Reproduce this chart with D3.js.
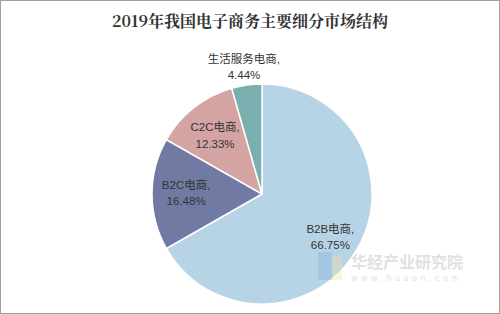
<!DOCTYPE html>
<html>
<head>
<meta charset="utf-8">
<script src="https://cdn.jsdelivr.net/npm/d3@7"></script>
<style>
  body { margin: 0; background: #fff; }
  svg { display: block; }
</style>
</head>
<body>
<div id="chart"></div>
<script>
// segments of the e-commerce market, 2019
var segments = ["B2B电商", "B2C电商", "C2C电商", "生活服务电商"];
var shares = [66.75, 16.48, 12.33, 4.44];
var colors = ["#b7d3e6", "#717aa2", "#d4a4a3", "#79afae"];

var width = 500, height = 314;
var cx = 262, cy = 194, radius = 110;

var svg = d3.select("#chart").append("svg")
  .attr("width", width)
  .attr("height", height);

// outer frame
svg.append("rect")
  .attr("x", 0.5).attr("y", 0.5)
  .attr("width", width - 1).attr("height", height - 1)
  .attr("fill", "#fff")
  .attr("stroke", "#a0a0a0");

svg.append("text")
  .attr("x", width / 2)
  .attr("y", 27)
  .attr("text-anchor", "middle")
  .attr("font-family", "'Noto Serif CJK SC', 'DejaVu Serif', 'Liberation Serif', serif")
  .attr("font-weight", "bold")
  .attr("font-size", "16px")
  .attr("fill", "#333")
  .text("2019年我国电子商务主要细分市场结构");

var data = segments.map(function(s, i) { return {name: s, value: shares[i], color: colors[i]}; });

var pie = d3.pie().sort(null).value(function(d) { return d.value; });
var arc = d3.arc().innerRadius(0).outerRadius(radius);

var g = svg.append("g").attr("transform", "translate(" + cx + "," + cy + ")");

var arcs = pie(data);

g.selectAll("path")
  .data(arcs)
  .enter().append("path")
  .attr("d", arc)
  .attr("fill", function(d) { return d.data.color; })
  .attr("stroke", "#fff")
  .attr("stroke-width", 1.5);

// label placement: radius fraction and angle shift (degrees) from slice middle
var labelR = [0.73, 0.69, 0.69, 1.18];
var labelShift = [1.5, 1.5, 0, 0];

var labels = g.selectAll(".lbl")
  .data(arcs)
  .enter().append("text")
  .attr("class", "lbl")
  .attr("text-anchor", "middle")
  .attr("font-family", "'Liberation Sans', 'Noto Sans CJK SC', sans-serif")
  .attr("font-size", "11.5px")
  .attr("fill", "#333")
  .attr("transform", function(d, i) {
    var a = (d.startAngle + d.endAngle) / 2 + labelShift[i] * Math.PI / 180;
    var r = radius * labelR[i];
    return "translate(" + (Math.sin(a) * r) + "," + (-Math.cos(a) * r) + ")";
  });

labels.append("tspan")
  .attr("x", 0)
  .attr("dy", "-0.25em")
  .text(function(d) { return d.data.name + ","; });

labels.append("tspan")
  .attr("x", 0)
  .attr("dy", "1.4em")
  .text(function(d) { return d.data.value.toFixed(2) + "%"; });

// faint watermark
var wm = svg.append("g").attr("opacity", 0.35);
wm.append("rect").attr("x", 318).attr("y", 252).attr("width", 14).attr("height", 28).attr("fill", "#7fb0e0");
wm.append("rect").attr("x", 332).attr("y", 256).attr("width", 10).attr("height", 24).attr("fill", "#f3e3a0");
wm.append("text")
  .attr("x", 351).attr("y", 268)
  .attr("font-family", "'Noto Sans CJK SC', sans-serif")
  .attr("font-size", "16px")
  .attr("font-weight", "bold")
  .attr("fill", "#aaa")
  .text("华经产业研究院");
wm.append("text")
  .attr("x", 351).attr("y", 281)
  .attr("font-family", "'DejaVu Sans', sans-serif")
  .attr("font-size", "8px")
  .attr("letter-spacing", "3.5px")
  .attr("fill", "#aaa")
  .text("www.huaon.com");
</script>
</body>
</html>
